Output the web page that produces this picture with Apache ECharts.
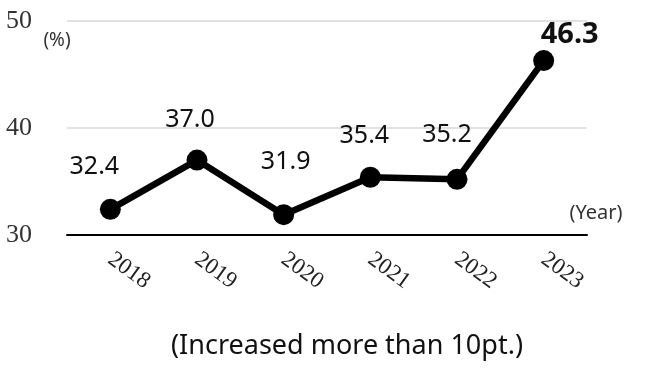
<!DOCTYPE html>
<html>
<head>
<meta charset="utf-8">
<script src="https://cdn.jsdelivr.net/npm/echarts@6/dist/echarts.min.js"></script>
<style>
html,body{margin:0;padding:0;background:#fff;}
#c{width:650px;height:370px;}
</style>
</head>
<body>
<div id="c"></div>
<script>
const categories = ['2018', '2019', '2020', '2021', '2022', '2023'];
const values = [32.4, 37.0, 31.9, 35.4, 35.2, 46.3];
const yTicks = [30, 40, 50];
const unitLabel = '(%)';
const xUnitLabel = '(Year)';
const caption = '(Increased more than 10pt.)';

// label placement (style, not data)
const labelOffsets = [[-16, -42], [-7, -40], [2, -53], [-6, -41], [-10, -44], [26, -26]];

const chart = echarts.init(document.getElementById('c'), null, {renderer: 'canvas'});

const seriesData = values.map((v, i) => {
  const last = i === values.length - 1;
  return {
    value: v,
    label: {
      offset: labelOffsets[i],
      fontSize: last ? 29 : 25,
      fontWeight: last ? 'bold' : 'normal'
    }
  };
});

chart.setOption({
  animation: false,
  backgroundColor: '#ffffff',
  grid: {left: 67, right: 63, top: 21, bottom: 135, containLabel: false},
  xAxis: {
    type: 'category',
    data: categories,
    boundaryGap: true,
    axisLine: {show: true, onZero: false, lineStyle: {color: '#000', width: 2}},
    axisTick: {show: false},
    axisLabel: {
      rotate: -36,
      align: 'left',
      verticalAlign: 'middle',
      margin: 22,
      color: '#222',
      fontFamily: 'Liberation Serif',
      fontSize: 23
    }
  },
  yAxis: {
    type: 'value',
    min: yTicks[0],
    max: yTicks[yTicks.length - 1],
    interval: yTicks[1] - yTicks[0],
    axisLine: {show: false},
    axisTick: {show: false},
    splitLine: {show: true, lineStyle: {color: '#d9d9d9', width: 1.5}},
    axisLabel: {
      margin: 35,
      color: '#333',
      fontFamily: 'Liberation Serif',
      fontSize: 26,
      padding: [6, 0, 0, 0]
    }
  },
  series: [{
    type: 'line',
    data: seriesData,
    symbol: 'circle',
    symbolSize: 21,
    lineStyle: {color: '#000', width: 6.5},
    itemStyle: {color: '#000'},
    label: {
      show: true,
      position: 'inside',
      align: 'center',
      verticalAlign: 'middle',
      color: '#111',
      fontFamily: 'Noto Sans',
      formatter: p => p.value.toFixed(1)
    },
    z: 5
  }],
  graphic: [
    {type: 'text', style: {x: 57, y: 41, text: unitLabel, align: 'center', verticalAlign: 'middle', font: '19px "Noto Sans"', fill: '#333'}},
    {type: 'text', style: {x: 596, y: 213, text: xUnitLabel, align: 'center', verticalAlign: 'middle', font: '20px "Noto Sans"', fill: '#333'}},
    {type: 'text', style: {x: 347, y: 346, text: caption, align: 'center', verticalAlign: 'middle', font: '27px "Noto Sans"', fill: '#111'}}
  ]
});
</script>
</body>
</html>
